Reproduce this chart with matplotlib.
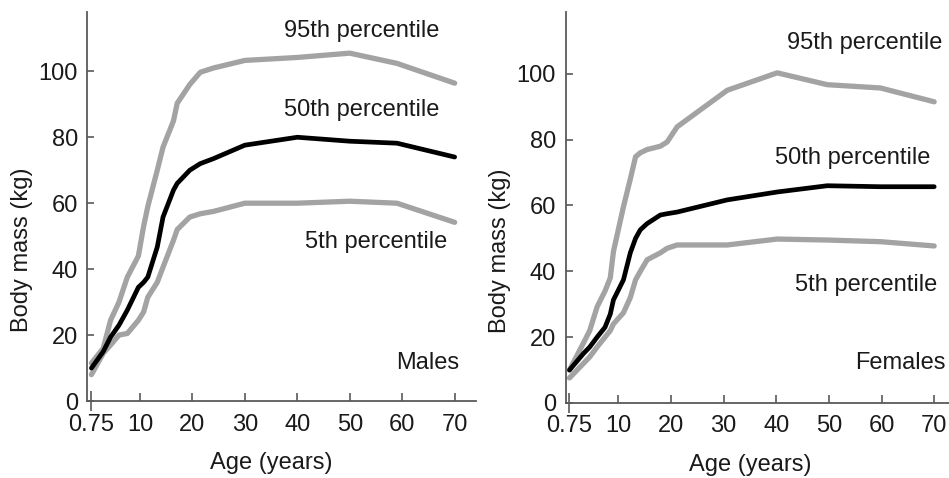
import matplotlib
matplotlib.use("Agg")
import matplotlib.pyplot as plt

plt.rcParams['font.family'] = ['Liberation Sans', 'DejaVu Sans']

# Males (age in years, body mass in kg)
male_age = [0.75, 3, 4.4, 6, 7.6, 9.7, 10.7, 11.5, 13.3, 14.4, 16.4, 17.1, 19.5, 21.5, 24, 30, 40, 50, 59, 70]
male_p95 = [11.5, 16, 24.5, 30, 37.6, 44, 53, 59, 70, 77, 85, 90.3, 96, 99.7, 101, 103.3, 104.2, 105.5, 102.4, 96.4]
male_p50 = [10, 15, 19.4, 23, 27.6, 34.5, 36, 37.6, 46.7, 55.8, 64, 66, 70, 72, 73.5, 77.6, 80, 78.8, 78.2, 74]
male_p05 = [8, 14.5, 17, 20, 20.5, 24.5, 27, 31.5, 36, 40.6, 48.8, 52, 55.8, 56.8, 57.5, 60, 60, 60.6, 60, 54.2]

# Females
fem_age = [0.75, 3.4, 4.6, 6, 7.5, 8.5, 9.1, 11, 12.3, 13.3, 14.2, 15.5, 18, 19.3, 21.2, 30.7, 40.2, 49.7, 59.8, 70]
fem_p95 = [10, 18.2, 22, 29.2, 34, 38, 46, 59.6, 68, 74.8, 76, 77, 78, 79.3, 83.9, 95, 100.3, 96.7, 95.7, 91.5]
fem_p50 = [10, 15, 17, 20, 23, 27, 31.3, 37.4, 45.6, 50, 52.6, 54.5, 57.1, 57.5, 58, 61.7, 64.1, 66, 65.7, 65.7]
fem_p05 = [7.6, 12, 14, 17, 20, 22, 24, 27.4, 32, 37.4, 40, 43.5, 45.6, 47, 48, 48, 49.8, 49.5, 49, 47.7]

xticks = [10, 20, 30, 40, 50, 60, 70]
yticks = [0, 20, 40, 60, 80, 100]

grey = '#a3a3a3'
spine_col = '#5a5a5a'
txt_col = '#1a1a1a'
fs = 17

fig = plt.figure(figsize=(9.49, 4.78), dpi=100)
ax1 = fig.add_axes([0.0922, 0.161, 0.409, 0.814])
ax2 = fig.add_axes([0.5959, 0.157, 0.4107, 0.818])


def style(ax, ytop):
    ax.set_xlim(0, 74)
    ax.set_ylim(0, ytop)
    for s in ['top', 'right']:
        ax.spines[s].set_visible(False)
    for s in ['left', 'bottom']:
        ax.spines[s].set_color(spine_col)
        ax.spines[s].set_linewidth(1.3)
    ax.set_xticks(xticks)
    ax.set_xticks([0.75], labels=['0.75'], minor=True)
    ax.set_yticks(yticks)
    ax.tick_params(axis='x', which='major', direction='in', length=6, width=1.2,
                   color=spine_col, labelsize=fs, pad=9, labelcolor=txt_col)
    ax.tick_params(axis='x', which='minor', direction='inout', length=14, width=1.2,
                   color=spine_col, labelsize=fs, pad=2, labelcolor=txt_col)
    ax.tick_params(axis='y', direction='in', length=5, width=1.2,
                   color=spine_col, labelsize=fs, pad=7, labelcolor=txt_col)
    ax.set_xlabel('Age (years)', fontsize=fs, color=txt_col)
    ax.set_ylabel('Body mass (kg)', fontsize=fs, color=txt_col)
    ax.xaxis.set_label_coords(35 / 74, -0.13)
    ax.yaxis.set_label_coords(-0.14, 0.39)


style(ax1, 118)
style(ax2, 118.8)

ax1.plot(male_age, male_p95, color=grey, lw=3.8, solid_capstyle='round')
ax1.plot(male_age, male_p05, color=grey, lw=3.8, solid_capstyle='round')
ax1.plot(male_age, male_p50, color='black', lw=3.4, solid_capstyle='round')

ax2.plot(fem_age, fem_p95, color=grey, lw=3.8, solid_capstyle='round')
ax2.plot(fem_age, fem_p05, color=grey, lw=3.8, solid_capstyle='round')
ax2.plot(fem_age, fem_p50, color='black', lw=3.4, solid_capstyle='round')

kw = dict(fontsize=fs, color=txt_col, ha='right', va='center')
ax1.text(67.1, 112.1, '95th percentile', **kw)
ax1.text(67.1, 88.2, '50th percentile', **kw)
ax1.text(68.5, 48.2, '5th percentile', **kw)
ax1.text(70.9, 11.5, 'Males', **kw)

ax2.text(71.5, 109.4, '95th percentile', **kw)
ax2.text(69.2, 74.5, '50th percentile', **kw)
ax2.text(70.6, 35.9, '5th percentile', **kw)
ax2.text(72.1, 12.2, 'Females', **kw)

fig.savefig('out.png', dpi=100)
